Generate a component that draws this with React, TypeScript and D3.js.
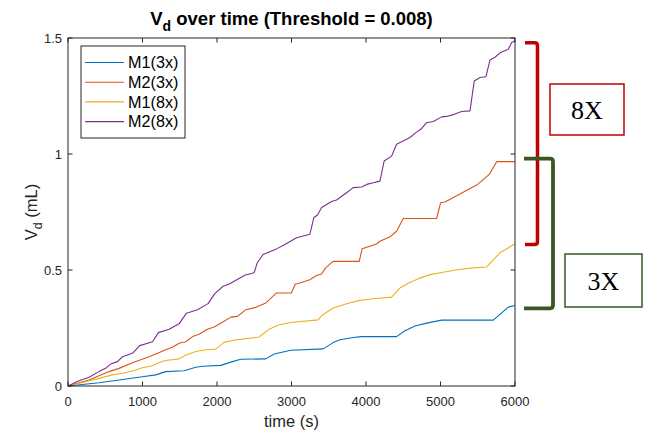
import React from "react";
import * as d3 from "d3";

const m1_3x_t = [0, 416, 685, 999, 1178, 1312, 1558, 1715, 1805, 2051, 2208, 2320, 2656, 2767, 2991, 3425, 3559, 3649, 3828, 3941, 4411, 4523, 4657, 4814, 5015, 5709, 5910, 6000];
const m1_3x_v = [0, 0.014, 0.026, 0.04, 0.048, 0.062, 0.066, 0.081, 0.085, 0.089, 0.105, 0.115, 0.117, 0.138, 0.154, 0.16, 0.187, 0.199, 0.209, 0.213, 0.213, 0.238, 0.259, 0.271, 0.284, 0.284, 0.34, 0.347];

const m2_3x_t = [0, 282, 551, 685, 865, 1088, 1178, 1312, 1402, 1491, 1581, 1671, 1760, 1872, 1961, 2074, 2185, 2275, 2387, 2521, 2656, 2799, 2998, 3052, 3112, 3246, 3336, 3404, 3455, 3559, 3909, 3949, 4142, 4187, 4321, 4411, 4500, 4948, 5002, 5060, 5486, 5655, 5754, 6000];
const m2_3x_v = [0, 0.026, 0.062, 0.076, 0.1, 0.126, 0.138, 0.156, 0.167, 0.184, 0.191, 0.213, 0.223, 0.245, 0.254, 0.275, 0.297, 0.3, 0.329, 0.339, 0.358, 0.401, 0.401, 0.44, 0.444, 0.458, 0.476, 0.483, 0.508, 0.537, 0.537, 0.592, 0.612, 0.624, 0.643, 0.667, 0.722, 0.722, 0.79, 0.793, 0.866, 0.912, 0.967, 0.967];

const m1_8x_t = [0, 238, 416, 596, 731, 865, 999, 1134, 1222, 1312, 1491, 1581, 1715, 1850, 1984, 2095, 2253, 2521, 2566, 2700, 2834, 2991, 3358, 3404, 3559, 3761, 3918, 4097, 4344, 4455, 4567, 4724, 4858, 5037, 5217, 5440, 5620, 5798, 6000];
const m1_8x_v = [0, 0.018, 0.033, 0.048, 0.055, 0.065, 0.079, 0.087, 0.101, 0.11, 0.117, 0.134, 0.149, 0.156, 0.159, 0.188, 0.199, 0.209, 0.211, 0.245, 0.264, 0.274, 0.285, 0.304, 0.336, 0.357, 0.369, 0.376, 0.383, 0.422, 0.443, 0.465, 0.48, 0.49, 0.501, 0.509, 0.513, 0.574, 0.613];

const m2_8x_t = [0, 148, 282, 416, 506, 574, 664, 731, 865, 963, 1134, 1214, 1357, 1491, 1590, 1738, 1880, 1970, 2082, 2172, 2373, 2498, 2539, 2619, 2799, 2911, 3068, 3246, 3300, 3350, 3404, 3538, 3605, 3739, 3828, 3941, 4008, 4097, 4187, 4244, 4344, 4411, 4590, 4670, 4747, 4814, 4903, 5015, 5083, 5194, 5284, 5396, 5453, 5530, 5610, 5664, 5731, 5808, 5910, 5956, 6000];
const m2_8x_v = [0, 0.023, 0.038, 0.062, 0.076, 0.095, 0.105, 0.126, 0.141, 0.174, 0.191, 0.23, 0.245, 0.268, 0.314, 0.329, 0.355, 0.398, 0.43, 0.441, 0.477, 0.488, 0.53, 0.567, 0.591, 0.61, 0.639, 0.654, 0.726, 0.737, 0.769, 0.795, 0.802, 0.833, 0.855, 0.858, 0.869, 0.876, 0.883, 0.97, 0.991, 1.042, 1.071, 1.092, 1.11, 1.135, 1.14, 1.16, 1.162, 1.172, 1.183, 1.186, 1.315, 1.33, 1.333, 1.405, 1.417, 1.438, 1.452, 1.481, 1.488];

const seriesNames = ["M1(3x)", "M2(3x)", "M1(8x)", "M2(8x)"];
const seriesColors = ["#0072BD", "#D95319", "#EDB120", "#7E2F8E"];
const seriesT = [m1_3x_t, m2_3x_t, m1_8x_t, m2_8x_t];
const seriesV = [m1_3x_v, m2_3x_v, m1_8x_v, m2_8x_v];

const xTicks = [0, 1000, 2000, 3000, 4000, 5000, 6000];
const yTicks = [0, 0.5, 1, 1.5];
const yTickLabels = ["0", "0.5", "1", "1.5"];

// annotation brackets in data units (V_d ranges)
const bracket8x = [0.61, 1.48];
const bracket3x = [0.335, 0.98];

export default function App() {
  const W = 651, H = 433;
  const left = 68, right = 515, top = 38, bottom = 386;
  const x = d3.scaleLinear().domain([0, 6000]).range([left, right]);
  const y = d3.scaleLinear().domain([0, 1.5]).range([bottom, top]);
  const line = d3.line<[number, number]>().x(d => x(d[0])).y(d => y(d[1]));
  const axisColor = "#262626";
  const font = "'Liberation Sans', Arial, sans-serif";
  const tick = 4.5;

  const bracketPath = (x0: number, x1: number, v0: number, v1: number) => {
    const yt = y(v1), yb = y(v0), r = 3;
    return `M${x0},${yt} L${x1 - r},${yt} Q${x1},${yt} ${x1},${yt + r} L${x1},${yb - r} Q${x1},${yb} ${x1 - r},${yb} L${x0},${yb}`;
  };

  return (
    <svg width={W} height={H} style={{ position: "absolute", left: 0, top: 0, background: "#fff" }}>
      <rect x={0} y={0} width={W} height={H} fill="#fff" />
      {/* data lines */}
      <g>
        {seriesT.map((ts, i) => (
          <path key={i} d={line(ts.map((t, j) => [t, seriesV[i][j]]) as [number, number][]) || ""}
            fill="none" stroke={seriesColors[i]} strokeWidth={1.1} strokeLinejoin="round" />
        ))}
      </g>
      {/* axes box */}
      <rect x={left} y={top} width={right - left} height={bottom - top} fill="none" stroke={axisColor} strokeWidth={1} />
      {xTicks.map(t => (
        <g key={"xt" + t}>
          <line x1={x(t)} x2={x(t)} y1={bottom} y2={bottom - tick} stroke={axisColor} />
          <line x1={x(t)} x2={x(t)} y1={top} y2={top + tick} stroke={axisColor} />
          <text x={x(t)} y={406} textAnchor="middle" fontFamily={font} fontSize={13} fill={axisColor}>{t}</text>
        </g>
      ))}
      {yTicks.map((v, i) => (
        <g key={"yt" + v}>
          <line x1={left} x2={left + tick} y1={y(v)} y2={y(v)} stroke={axisColor} />
          <line x1={right} x2={right - tick} y1={y(v)} y2={y(v)} stroke={axisColor} />
          <text x={62} y={y(v)} dy="0.35em" textAnchor="end" fontFamily={font} fontSize={13} fill={axisColor}>{yTickLabels[i]}</text>
        </g>
      ))}
      {/* title */}
      <text x={(left + right) / 2} y={25} textAnchor="middle" fontFamily={font} fontSize={18.5} fontWeight="bold" fill="#000">
        <tspan>V</tspan><tspan dy={6} fontSize={14}>d</tspan><tspan dy={-6}> over time (Threshold = 0.008)</tspan>
      </text>
      {/* x label */}
      <text x={(left + right) / 2} y={427} textAnchor="middle" fontFamily={font} fontSize={16.5} fill={axisColor}>time (s)</text>
      {/* y label */}
      <text transform={`translate(37,${(top + bottom) / 2}) rotate(-90)`} textAnchor="middle" fontFamily={font} fontSize={16.5} fill={axisColor}>
        <tspan>V</tspan><tspan dy={4.5} fontSize={12.5}>d</tspan><tspan dy={-4.5}> (mL)</tspan>
      </text>
      {/* legend */}
      <g>
        <rect x={81} y={46} width={104} height={92} fill="#fff" stroke={axisColor} strokeWidth={1} />
        {seriesNames.map((n, i) => {
          const ry = 62.5 + i * 19.7;
          return (
            <g key={n}>
              <line x1={85} x2={124} y1={ry} y2={ry} stroke={seriesColors[i]} strokeWidth={1.1} />
              <text x={128} y={ry} dy="0.36em" fontFamily={font} fontSize={16.2} fill="#000">{n}</text>
            </g>
          );
        })}
      </g>
      {/* annotations */}
      <path d={bracketPath(525, 537.5, bracket8x[0], bracket8x[1])} fill="none" stroke="#C00000" strokeWidth={3.5} />
      <rect x={550} y={84} width={74} height={51} fill="#fff" stroke="#C00000" strokeWidth={1.5} />
      <text x={587} y={119} textAnchor="middle" fontFamily="'Liberation Serif', 'Times New Roman', serif" fontSize={26} fill="#000">8X</text>
      <path d={bracketPath(524, 553, bracket3x[0], bracket3x[1])} fill="none" stroke="#385723" strokeWidth={3.8} />
      <rect x={565} y={254} width={77} height={53} fill="#fff" stroke="#385723" strokeWidth={1.5} />
      <text x={603.5} y={290} textAnchor="middle" fontFamily="'Liberation Serif', 'Times New Roman', serif" fontSize={26} fill="#000">3X</text>
    </svg>
  );
}
